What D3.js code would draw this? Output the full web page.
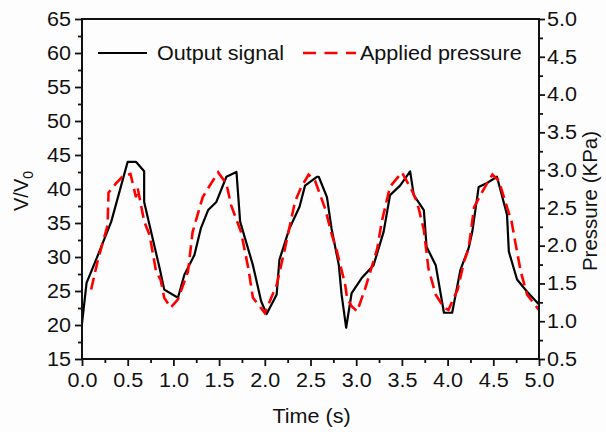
<!DOCTYPE html>
<html>
<head>
<meta charset="utf-8"/>
<title>Output signal vs applied pressure</title>
<style type="text/css">
    body, html {margin:0;padding:0;background:#fdfdfd;overflow:hidden;}
    svg text {font-family:"Liberation Sans", Arial, sans-serif;fill:#111;}
</style>
<script src="https://cdn.jsdelivr.net/npm/d3@7/dist/d3.min.js"></script>
</head>
<body>
<svg id="chart" width="606" height="432"></svg>
<script>
// black line: V/V0 over time
var outTime = [0.00,0.05,0.16,0.32,0.50,0.59,0.68,0.68,0.85,0.90,1.05,1.12,1.23,1.30,1.38,1.47,1.58,1.69,1.73,1.87,1.96,2.02,2.13,2.16,2.27,2.38,2.44,2.57,2.59,2.68,2.73,2.81,2.84,2.89,2.95,3.06,3.19,3.30,3.37,3.48,3.59,3.63,3.74,3.77,3.87,3.96,4.05,4.14,4.23,4.27,4.34,4.42,4.54,4.65,4.67,4.76,4.87,5.00];
var outValue = [20.2,26.2,29.8,35.2,44.0,44.0,42.6,38.1,28.3,25.2,24.0,27.4,30.3,34.2,36.9,38.1,41.8,42.5,35.2,28.8,23.5,21.6,24.5,29.6,34.2,37.4,40.5,41.8,41.8,38.8,34.2,28.8,24.5,19.6,24.7,26.9,28.8,33.7,39.1,40.5,42.6,39.1,36.9,31.5,28.8,21.8,21.8,28.1,31.3,33.7,40.3,40.8,41.8,36.2,30.8,26.7,24.9,23.0];

// red dashed line: applied pressure (KPa)
var presTime = [0.10,0.17,0.28,0.29,0.37,0.44,0.53,0.56,0.59,0.61,0.68,0.74,0.81,0.86,0.90,0.97,1.05,1.16,1.21,1.32,1.40,1.49,1.58,1.63,1.74,1.82,1.87,2.00,2.13,2.22,2.33,2.40,2.48,2.55,2.66,2.73,2.79,2.88,2.90,2.95,3.01,3.10,3.23,3.28,3.37,3.50,3.61,3.67,3.74,3.79,3.87,3.96,4.01,4.05,4.11,4.18,4.23,4.29,4.36,4.43,4.49,4.56,4.65,4.70,4.74,4.80,4.87,5.00];
var presValue = [1.42,1.79,2.27,2.70,2.82,2.91,2.95,2.80,2.64,2.76,2.32,2.14,1.66,1.55,1.31,1.18,1.29,1.66,2.18,2.64,2.80,2.97,2.82,2.54,2.18,1.70,1.31,1.11,1.48,1.96,2.58,2.78,2.94,2.86,2.49,2.16,1.92,1.48,1.31,1.20,1.13,1.44,1.96,2.32,2.78,2.97,2.73,2.56,2.21,1.70,1.35,1.18,1.15,1.26,1.42,1.79,1.96,2.51,2.67,2.82,2.94,2.86,2.51,2.32,2.05,1.66,1.35,1.15];

var xTicks = [0,0.5,1,1.5,2,2.5,3,3.5,4,4.5,5];
var leftTicks = [15,20,25,30,35,40,45,50,55,60,65];
var rightTicks = [0.5,1,1.5,2,2.5,3,3.5,4,4.5,5];

var svg = d3.select("#chart");
var L = 82, R = 539, T = 19, B = 359;
var FS = 19.6, SX = 1.1;   // text in the picture is a bit wide

var x = d3.scaleLinear().domain([0,5]).range([L,R]);
var yL = d3.scaleLinear().domain([15,65]).range([B,T]);
var yR = d3.scaleLinear().domain([0.5,5]).range([B,T]);

function minors(list) {
    var m = [];
    for (var i = 0; i < list.length - 1; i++) m.push((list[i] + list[i+1]) / 2);
    return m;
}

function styleAxis(g) {
    g.selectAll(".domain").remove();
    g.selectAll(".tick line").attr("stroke", "#111").attr("stroke-width", 1.8);
    g.selectAll(".tick text")
        .style("font-size", FS + "px")
        .attr("x", function() { return (+d3.select(this).attr("x") || 0) / SX; })
        .attr("transform", "scale(" + SX + ",1)");
}

// minor ticks
svg.append("g").attr("transform", "translate(0," + B + ")")
    .call(d3.axisBottom(x).tickValues(minors(xTicks)).tickSize(4).tickFormat(""))
    .call(styleAxis);
svg.append("g").attr("transform", "translate(" + L + ",0)")
    .call(d3.axisLeft(yL).tickValues(minors(leftTicks)).tickSize(4).tickFormat(""))
    .call(styleAxis);
svg.append("g").attr("transform", "translate(" + R + ",0)")
    .call(d3.axisRight(yR).tickValues(minors(rightTicks)).tickSize(4).tickFormat(""))
    .call(styleAxis);

// major ticks
svg.append("g").attr("transform", "translate(0," + B + ")")
    .call(d3.axisBottom(x).tickValues(xTicks).tickSize(7).tickPadding(7).tickFormat(d3.format(".1f")))
    .call(styleAxis);
svg.append("g").attr("transform", "translate(" + L + ",0)")
    .call(d3.axisLeft(yL).tickValues(leftTicks).tickSize(7).tickPadding(4).tickFormat(d3.format("d")))
    .call(styleAxis);
svg.append("g").attr("transform", "translate(" + R + ",0)")
    .call(d3.axisRight(yR).tickValues(rightTicks).tickSize(6).tickPadding(2).tickFormat(d3.format(".1f")))
    .call(styleAxis);

// data lines
var outLine = d3.line().x(function(d, i) { return x(outTime[i]); }).y(function(d) { return yL(d); });
var presLine = d3.line().x(function(d, i) { return x(presTime[i]); }).y(function(d) { return yR(d); });

svg.append("path").datum(outValue)
    .attr("d", outLine)
    .attr("fill", "none").attr("stroke", "#000").attr("stroke-width", 2.2)
    .attr("stroke-linejoin", "round");

svg.append("path").datum(presValue)
    .attr("d", presLine)
    .attr("fill", "none").attr("stroke", "#f00").attr("stroke-width", 2.6)
    .attr("stroke-dasharray", "12,6");

// frame
svg.append("rect").attr("x", L).attr("y", T).attr("width", R - L).attr("height", B - T)
    .attr("fill", "none").attr("stroke", "#111").attr("stroke-width", 2);

function label(px, py, txt, anchor) {
    return svg.append("text")
        .attr("transform", "translate(" + px + "," + py + ") scale(" + SX + ",1)")
        .attr("text-anchor", anchor || "start")
        .style("font-size", FS + "px").text(txt);
}

// legend
svg.append("line").attr("x1", 98).attr("x2", 147).attr("y1", 53).attr("y2", 53)
    .attr("stroke", "#000").attr("stroke-width", 2.2);
label(157, 59.5, "Output signal");
svg.append("line").attr("x1", 303).attr("x2", 356).attr("y1", 53).attr("y2", 53)
    .attr("stroke", "#f00").attr("stroke-width", 2.6).attr("stroke-dasharray", "13,8.5");
label(360, 59.5, "Applied pressure");

// axis titles
label(311.5, 423, "Time (s)", "middle");

var yt = svg.append("text").attr("transform", "translate(28,191) rotate(-90)")
    .attr("text-anchor", "middle").style("font-size", "20px");
yt.append("tspan").text("V/V");
yt.append("tspan").attr("dy", 5).style("font-size", "14px").text("0");

svg.append("text").attr("transform", "translate(597,201) rotate(-90)")
    .attr("text-anchor", "middle").style("font-size", "20.5px").text("Pressure (KPa)");
</script>
</body>
</html>
